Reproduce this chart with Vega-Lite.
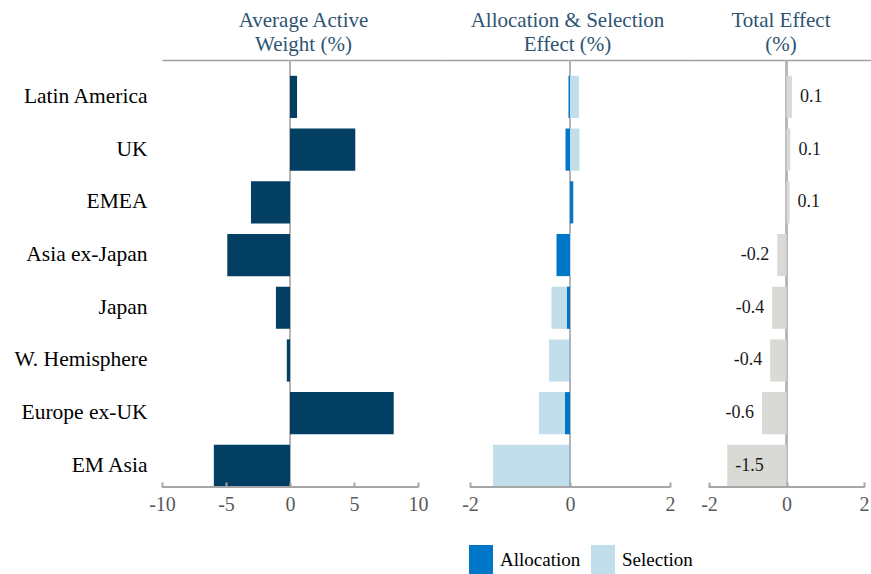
{
  "$schema": "https://vega.github.io/schema/vega-lite/v6.json",
  "background": "white",
  "padding": {"left": 14, "top": 9, "right": 0, "bottom": 0},
  "spacing": 0,
  "bounds": "flush",
  "config": {
    "view": {"stroke": null},
    "font": "Liberation Serif",
    "concat": {"spacing": 0},
    "locale": {"number": {"decimal": ".", "thousands": ",", "grouping": [3], "currency": ["$", ""], "minus": "-"}}
  },
  "data": {
    "values": [
      {"region": "Latin America", "weight": 0.55, "Allocation": -0.03, "Selection": 0.18, "total": 0.14},
      {"region": "UK", "weight": 5.1, "Allocation": -0.09, "Selection": 0.19, "total": 0.1},
      {"region": "EMEA", "weight": -3.05, "Allocation": 0.06, "Selection": 0.02, "total": 0.08},
      {"region": "Asia ex-Japan", "weight": -4.9, "Allocation": -0.27, "Selection": 0.02, "total": -0.24},
      {"region": "Japan", "weight": -1.1, "Allocation": -0.06, "Selection": -0.31, "total": -0.37},
      {"region": "W. Hemisphere", "weight": -0.25, "Allocation": -0.01, "Selection": -0.41, "total": -0.42},
      {"region": "Europe ex-UK", "weight": 8.1, "Allocation": -0.1, "Selection": -0.52, "total": -0.63},
      {"region": "EM Asia", "weight": -5.95, "Allocation": -0.01, "Selection": -1.53, "total": -1.53}
    ]
  },
  "resolve": {"scale": {"x": "independent", "color": "independent"}},
  "hconcat": [
    {
      "width": 282,
      "height": 427,
      "resolve": {"axis": {"x": "independent"}},
      "layer": [
        {
          "mark": {"type": "rule", "color": "#b4b4b4", "strokeWidth": 1.5},
          "encoding": {
            "x": {"datum": 0, "type": "quantitative", "scale": {"domain": [-10, 12.03], "nice": false, "zero": false},
              "axis": {"orient": "top", "domain": true, "domainColor": "#a0a0a0", "domainWidth": 1.5, "ticks": false, "labels": false, "grid": false,
                "title": ["Average Active", "Weight (%)"], "titleFontSize": 21, "titleFontWeight": "normal", "titleColor": "#2e5473", "titlePadding": 6, "titleLineHeight": 24}}
          }
        },
        {
          "mark": {"type": "bar", "color": "#023f63"},
          "encoding": {
            "x": {"field": "weight", "type": "quantitative", "scale": {"domain": [-10, 12.03], "nice": false, "zero": false},
              "axis": {"orient": "bottom", "zindex": 1, "values": [-10, -5, 0, 5, 10], "domain": false, "ticks": true, "tickSize": -5, "tickColor": "#a6a6a6", "tickWidth": 2,
                "labelFontSize": 20, "labelColor": "#595959", "labelPadding": 12, "grid": false, "title": null, "labelFlush": false}},
            "y": {"field": "region", "type": "nominal",
              "sort": ["Latin America", "UK", "EMEA", "Asia ex-Japan", "Japan", "W. Hemisphere", "Europe ex-UK", "EM Asia"],
              "scale": {"paddingInner": 0.2, "paddingOuter": 0.15, "align": 1},
              "axis": {"orient": "left", "domain": false, "ticks": false, "labelPadding": 15, "labelFontSize": 21.5, "labelColor": "#000000", "title": null}}
          }
        },
        {
          "mark": {"type": "rule", "color": "#a6a6a6", "strokeWidth": 2},
          "encoding": {
            "x": {"datum": -10, "type": "quantitative", "scale": {"domain": [-10, 12.03], "nice": false, "zero": false}, "axis": null},
            "x2": {"datum": 10},
            "y": {"value": "height"}
          }
        }
      ]
    },
    {
      "width": 246,
      "height": 427,
      "resolve": {"axis": {"x": "independent"}},
      "layer": [
        {
          "mark": {"type": "rule", "color": "#b4b4b4", "strokeWidth": 1.5},
          "encoding": {
            "x": {"datum": 0, "type": "quantitative", "scale": {"domain": [-2.52, 2.4], "nice": false, "zero": false},
              "axis": {"orient": "top", "domain": true, "domainColor": "#a0a0a0", "domainWidth": 1.5, "ticks": false, "labels": false, "grid": false,
                "title": ["Allocation & Selection", "Effect (%)"], "titleFontSize": 21, "titleFontWeight": "normal", "titleColor": "#2e5473", "titlePadding": 6, "titleLineHeight": 24}}
          }
        },
        {
          "transform": [{"fold": ["Allocation", "Selection"], "as": ["key", "value"]}],
          "mark": {"type": "bar"},
          "encoding": {
            "x": {"field": "value", "type": "quantitative", "stack": "zero", "scale": {"domain": [-2.52, 2.4], "nice": false, "zero": false},
              "axis": {"orient": "bottom", "zindex": 1, "values": [-2, 0, 2], "domain": false, "ticks": true, "tickSize": -5, "tickColor": "#a6a6a6", "tickWidth": 2,
                "labelFontSize": 20, "labelColor": "#595959", "labelPadding": 12, "grid": false, "title": null, "labelFlush": false}},
            "y": {"field": "region", "type": "nominal",
              "sort": ["Latin America", "UK", "EMEA", "Asia ex-Japan", "Japan", "W. Hemisphere", "Europe ex-UK", "EM Asia"],
              "scale": {"paddingInner": 0.2, "paddingOuter": 0.15, "align": 1}, "axis": null},
            "color": {"field": "key", "type": "nominal",
              "scale": {"domain": ["Allocation", "Selection"], "range": ["#0077c8", "#c2deea"]},
              "legend": {"orient": "none", "legendX": 25, "legendY": 488, "direction": "horizontal", "title": null,
                "symbolType": "M-1,-1.25H1V1.25H-1Z", "symbolSize": 576, "symbolStrokeWidth": 0, "labelFontSize": 19, "labelColor": "#000000",
                "labelOffset": 7, "columnPadding": 10}},
            "order": {"field": "key", "type": "nominal", "sort": "ascending"}
          }
        },
        {
          "mark": {"type": "rule", "color": "#a6a6a6", "strokeWidth": 2},
          "encoding": {
            "x": {"datum": -2, "type": "quantitative", "scale": {"domain": [-2.52, 2.4], "nice": false, "zero": false}, "axis": null},
            "x2": {"datum": 2},
            "y": {"value": "height"}
          }
        }
      ]
    },
    {
      "width": 181,
      "height": 427,
      "resolve": {"axis": {"x": "independent"}},
      "layer": [
        {
          "mark": {"type": "rule", "color": "#b4b4b4", "strokeWidth": 1.5},
          "encoding": {
            "x": {"datum": 0, "type": "quantitative", "scale": {"domain": [-2.49, 2.18], "nice": false, "zero": false},
              "axis": {"orient": "top", "domain": true, "domainColor": "#a0a0a0", "domainWidth": 1.5, "ticks": false, "labels": false, "grid": false,
                "title": ["Total Effect", "(%)"], "titleFontSize": 21, "titleFontWeight": "normal", "titleColor": "#2e5473", "titlePadding": 6, "titleLineHeight": 24}}
          }
        },
        {
          "mark": {"type": "bar", "color": "#d9d9d5"},
          "encoding": {
            "x": {"field": "total", "type": "quantitative", "scale": {"domain": [-2.49, 2.18], "nice": false, "zero": false},
              "axis": {"orient": "bottom", "zindex": 1, "values": [-2, 0, 2], "domain": false, "ticks": true, "tickSize": -5, "tickColor": "#a6a6a6", "tickWidth": 2,
                "labelFontSize": 20, "labelColor": "#595959", "labelPadding": 12, "grid": false, "title": null, "labelFlush": false}},
            "y": {"field": "region", "type": "nominal",
              "sort": ["Latin America", "UK", "EMEA", "Asia ex-Japan", "Japan", "W. Hemisphere", "Europe ex-UK", "EM Asia"],
              "scale": {"paddingInner": 0.2, "paddingOuter": 0.15, "align": 1}, "axis": null}
          }
        },
        {
          "mark": {"type": "rule", "color": "#a6a6a6", "strokeWidth": 2},
          "encoding": {
            "x": {"datum": -2, "type": "quantitative", "scale": {"domain": [-2.49, 2.18], "nice": false, "zero": false}, "axis": null},
            "x2": {"datum": 2},
            "y": {"value": "height"}
          }
        },
        {
          "transform": [{"filter": "datum.total > 0"}],
          "mark": {"type": "text", "align": "left", "baseline": "middle", "dx": 8, "fontSize": 18, "color": "#1a1a1a"},
          "encoding": {
            "x": {"field": "total", "type": "quantitative", "scale": {"domain": [-2.49, 2.18], "nice": false, "zero": false}, "axis": null},
            "y": {"field": "region", "type": "nominal", "sort": ["Latin America", "UK", "EMEA", "Asia ex-Japan", "Japan", "W. Hemisphere", "Europe ex-UK", "EM Asia"]},
            "text": {"field": "total", "type": "quantitative", "format": ".1f"}
          }
        },
        {
          "transform": [{"filter": "datum.total < 0 && datum.total > -1"}],
          "mark": {"type": "text", "align": "right", "baseline": "middle", "dx": -8, "fontSize": 18, "color": "#1a1a1a"},
          "encoding": {
            "x": {"field": "total", "type": "quantitative", "scale": {"domain": [-2.49, 2.18], "nice": false, "zero": false}, "axis": null},
            "y": {"field": "region", "type": "nominal", "sort": ["Latin America", "UK", "EMEA", "Asia ex-Japan", "Japan", "W. Hemisphere", "Europe ex-UK", "EM Asia"]},
            "text": {"field": "total", "type": "quantitative", "format": ".1f"}
          }
        },
        {
          "transform": [{"filter": "datum.total <= -1"}],
          "mark": {"type": "text", "align": "left", "baseline": "middle", "dx": 8, "fontSize": 18, "color": "#1a1a1a"},
          "encoding": {
            "x": {"field": "total", "type": "quantitative", "scale": {"domain": [-2.49, 2.18], "nice": false, "zero": false}, "axis": null},
            "y": {"field": "region", "type": "nominal", "sort": ["Latin America", "UK", "EMEA", "Asia ex-Japan", "Japan", "W. Hemisphere", "Europe ex-UK", "EM Asia"]},
            "text": {"field": "total", "type": "quantitative", "format": ".1f"}
          }
        }
      ]
    }
  ]
}
